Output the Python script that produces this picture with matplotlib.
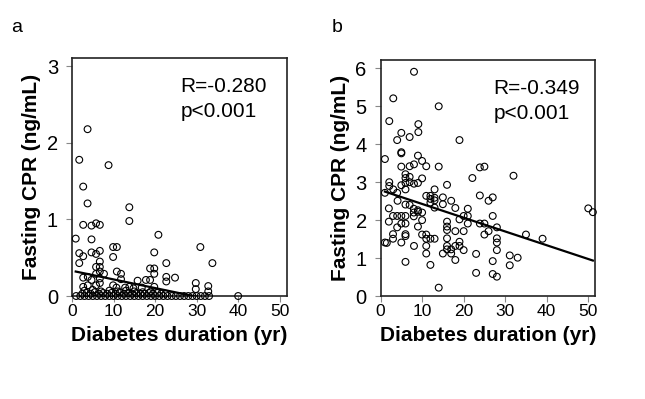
import numpy as np
import matplotlib
matplotlib.use("Agg")
import matplotlib.pyplot as plt

plt.rcParams['font.family'] = ['Liberation Sans', 'DejaVu Sans']

# panel a: fasting CPR vs diabetes duration
dur_a = [3.75, 1.75, 2.7, 3.75, 8.8, 13.8, 13.8, 2.7, 4.7, 5.8, 6.7, 0.9, 4.7, 20.8, 30.9, 33.8,
         9.9, 10.8, 9.9, 19.8, 1.75, 1.75, 2.7, 4.7, 5.8, 6.7, 6.7, 6.7, 6.7, 5.8, 5.8, 3.8,
         2.7, 7.7, 10.8, 11.8, 11.8, 4.7, 6.7, 6.7, 2.7, 3.8, 5.8, 9.9, 10.7, 12.8, 13.8, 14.8,
         15.8, 17.8, 18.8, 18.8, 19.8, 19.8, 22.7, 22.7, 22.7, 24.8, 29.8, 29.8, 32.8, 32.8,
         19.8, 16.8,
         1, 2, 3, 4, 5, 6, 7, 8, 9, 10, 11, 12, 13, 14, 15, 16, 17, 18, 19, 20, 21, 22, 23,
         24, 25, 26, 27, 28, 29, 30, 31, 32, 33, 40,
         2.5, 3.5, 4.5, 5.5, 6.5, 7.5, 8.5, 9.5, 10.5, 11.5, 12.5, 13.5, 14.5, 15.5, 16.5,
         17.5, 18.5, 19.5, 20.5, 21.5, 22.5,
         3, 5, 7, 9, 11, 13, 15, 17, 19]
cpr_a = [2.18, 1.78, 1.43, 1.21, 1.71, 1.16, 0.98, 0.93, 0.92, 0.95, 0.93, 0.75, 0.74, 0.80, 0.64, 0.43,
         0.64, 0.64, 0.51, 0.57, 0.56, 0.43, 0.52, 0.57, 0.55, 0.59, 0.45, 0.38, 0.32, 0.38, 0.29, 0.25,
         0.24, 0.29, 0.32, 0.29, 0.22, 0.21, 0.23, 0.17, 0.12, 0.14, 0.14, 0.14, 0.11, 0.11, 0.12, 0.10,
         0.20, 0.21, 0.21, 0.36, 0.36, 0.29, 0.43, 0.25, 0.19, 0.24, 0.17, 0.09, 0.13, 0.06,
         0.12, 0.11,
         0, 0, 0, 0, 0, 0, 0, 0, 0, 0, 0, 0, 0, 0, 0, 0, 0, 0, 0, 0, 0, 0, 0,
         0, 0, 0, 0, 0, 0, 0, 0, 0, 0, 0,
         0.03, 0.04, 0.03, 0.05, 0.03, 0.04, 0.03, 0.04, 0.03, 0.05, 0.03, 0.04, 0.03, 0.04, 0.03,
         0.03, 0.04, 0.03, 0.04, 0.03, 0.03,
         0.07, 0.08, 0.06, 0.07, 0.06, 0.07, 0.06, 0.05, 0.06]

# panel b
dur_b = [8.05, 3.06, 14.0, 2.1, 9.1, 9.1, 5.0, 4.0, 7.0, 19.0, 1.05, 5.0, 5.0, 9.0, 10.0, 11.0,
         14.0, 8.05, 7.0, 5.0, 23.9, 25.0, 22.1, 32.0, 10.0, 2.1, 2.1, 1.05, 3.06, 4.0, 5.0, 6.0,
         6.0, 7.0, 6.0, 7.0, 8.05, 9.0, 6.0, 16.0, 13.0, 11.0, 12.0, 12.0, 13.0, 13.0, 12.0, 13.0,
         15.0, 17.0, 18.0, 21.0, 23.9, 26.0, 27.0, 27.0, 25.0, 23.9, 28.0, 25.0, 26.0, 28.0, 28.0,
         28.0, 27.0, 27.0, 28.0, 23.0, 23.0, 31.1, 31.1, 33.0, 35.0, 39.0, 50.0, 51.1, 2.0, 2.0,
         4.1, 6.0, 3.0, 4.0, 5.0, 6.0, 5.0, 6.0, 4.0, 3.0, 3.0, 5.0, 1.05, 6.0, 6.0, 6.0, 8.05,
         7.0, 8.0, 9.0, 9.0, 10.0, 10.0, 9.0, 10.0, 11.0, 11.0, 12.0, 13.0, 11.0, 11.0, 12.0,
         14.0, 15.0, 16.0, 16.0, 16.0, 16.0, 16.0, 16.0, 17.0, 17.0, 18.0, 18.0, 18.0, 19.0,
         19.0, 20.0, 20.0, 20.0, 19.0, 21.0, 21.0, 8.0, 8.0, 15.0, 1.5]
cpr_b = [5.91, 5.21, 5.0, 4.61, 4.53, 4.32, 4.30, 4.11, 4.19, 4.11, 3.61, 3.79, 3.76, 3.70, 3.56, 3.42,
         3.41, 3.47, 3.42, 3.41, 3.39, 3.41, 3.11, 3.17, 3.10, 3.00, 2.90, 2.72, 2.81, 2.72, 2.92, 3.21,
         3.11, 3.14, 2.98, 3.00, 2.96, 2.98, 2.81, 2.93, 2.81, 2.64, 2.64, 2.56, 2.59, 2.52, 2.46, 2.33,
         2.42, 2.51, 2.32, 2.30, 2.65, 2.51, 2.60, 2.11, 1.91, 1.91, 1.81, 1.62, 1.71, 1.52, 1.41,
         1.21, 0.92, 0.58, 0.51, 1.11, 0.61, 1.07, 0.81, 1.01, 1.62, 1.51, 2.31, 2.21, 2.31, 1.96,
         2.51, 2.41, 2.11, 2.11, 2.11, 2.11, 1.91, 1.91, 1.81, 1.63, 1.51, 1.41, 1.41, 1.63, 1.58,
         0.90, 1.32, 2.40, 2.30, 2.22, 2.26, 2.20, 2.00, 1.83, 1.62, 1.62, 1.51, 1.51, 1.51, 1.32,
         1.12, 0.82, 0.22, 1.12, 1.96, 1.83, 1.74, 1.52, 1.32, 1.23, 1.23, 1.12, 1.32, 0.95, 1.71,
         1.43, 1.32, 1.21, 1.71, 2.11, 2.02, 1.91, 2.11, 2.2, 2.1, 2.6, 1.4]

# fitted lines (intercept, slope) and stats text
fit_a = (0.33, -0.0113)
fit_b = (2.79, -0.0363)
r_a, p_a = "R=-0.280", "p<0.001"
r_b, p_b = "R=-0.349", "p<0.001"

fig = plt.figure(figsize=(6.45, 3.99), dpi=100)
ax_a = fig.add_axes([0.1116, 0.2581, 0.333, 0.5965])
ax_b = fig.add_axes([0.590, 0.2581, 0.333, 0.5915])

panels = [(ax_a, dur_a, cpr_a, fit_a, r_a, p_a, 3.11, [0, 1, 2, 3], 0.505),
          (ax_b, dur_b, cpr_b, fit_b, r_b, p_b, 6.22, [0, 1, 2, 3, 4, 5, 6], 0.525)]

for ax, xs, ys, fit, rtxt, ptxt, ymax, yt, tx in panels:
    ax.scatter(xs, ys, s=24, facecolors='none', edgecolors='black', linewidths=0.8,
               clip_on=False, zorder=3)
    lx = np.array([min(xs), max(xs)])
    ax.plot(lx, fit[0] + fit[1] * lx, color='black', lw=1.6, zorder=4)
    ax.set_xlim(0, 51.7)
    ax.set_ylim(0, ymax)
    ax.set_xticks([0, 10, 20, 30, 40, 50])
    ax.set_xticklabels(['0', '10', '20', '30', '40', '50'])
    ax.set_yticks(yt)
    ax.tick_params(axis='x', labelsize=12.5, length=4, color='#888888', pad=2)
    ax.tick_params(axis='y', labelsize=14.5, length=4, color='#888888', pad=6)
    for sp in ax.spines.values():
        sp.set_color('#222222')
        sp.set_linewidth(1.2)
    ax.set_xlabel('Diabetes duration (yr)', fontsize=15, fontweight='bold', labelpad=5)
    ax.set_ylabel('Fasting CPR (ng/mL)', fontsize=15, fontweight='bold', labelpad=4)
    ax.text(tx, 0.92, rtxt, transform=ax.transAxes, fontsize=15, va='top', ha='left')
    ax.text(tx, 0.815, ptxt, transform=ax.transAxes, fontsize=15, va='top', ha='left')

fig.text(0.018, 0.92, 'a', fontsize=14)
fig.text(0.515, 0.92, 'b', fontsize=14)

fig.savefig('out.png', dpi=100)
